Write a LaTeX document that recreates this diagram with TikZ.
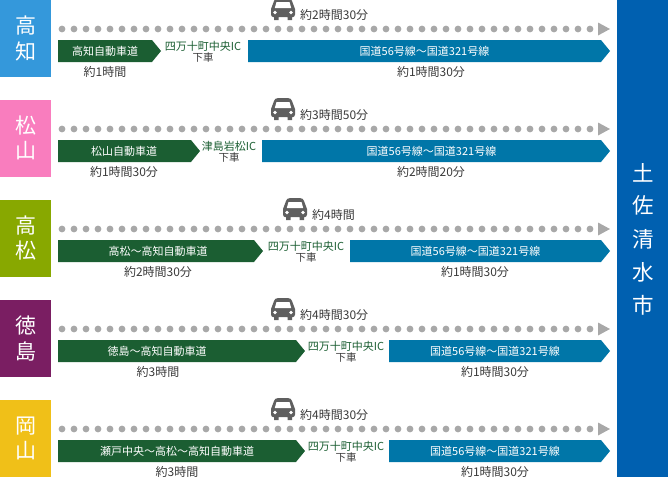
\documentclass[tikz,border=0pt]{standalone}
\usepackage{fontspec}
\setmainfont{Noto Sans CJK JP}
\usetikzlibrary{calc}
\definecolor{roadgreen}{HTML}{1B5E32}
\definecolor{roadblue}{HTML}{0076A8}
\definecolor{dotgray}{HTML}{A8A8A8}
\definecolor{cargray}{HTML}{5F5F5F}
\definecolor{txtgray}{HTML}{3A3A3A}
\definecolor{citytop}{HTML}{0060B0}
\definecolor{cola}{HTML}{3498DB}
\definecolor{colb}{HTML}{F97DBE}
\definecolor{colc}{HTML}{88A800}
\definecolor{cold}{HTML}{7A1E62}
\definecolor{cole}{HTML}{F0C018}
\tikzset{
  x=1pt,y=-1pt,
  citybox/.style={anchor=north west,minimum width=51pt,minimum height=77pt,inner sep=0pt,fill=#1},
  citytext/.style={text=white,font=\fontsize{21}{25}\selectfont,inner sep=0pt},
  roadtext/.style={text=white,font=\fontsize{11}{12}\selectfont,inner sep=0pt},
  timetext/.style={text=txtgray,font=\fontsize{12}{13}\selectfont,inner sep=0pt},
  ictext/.style={text=roadgreen,font=\fontsize{11}{12}\selectfont,inner sep=0pt},
  dwntext/.style={text=txtgray,font=\fontsize{10.5}{12}\selectfont,inner sep=0pt},
  cardot/.style={fill=dotgray,draw=none},
}
% #1 row name, #2 y, #3 colour, #4 first kanji, #5 second kanji, #6 car x, #7 total time, #8 green end
\newcommand{\rowA}[8]{%
  \node[citybox=#3] (#1box) at (0,#2) {};
  \node[citytext] (#1one) at (25.5,{#2+26}) {#4};
  \node[citytext] (#1two) at (25.5,{#2+51}) {#5};
  \foreach \i in {0,...,44} {\fill[cardot] ({62+12*\i},{#2+29}) circle (3.4);}
  \fill[dotgray] (598,{#2+22.5}) -- (610,{#2+29}) -- (598,{#2+35.5}) -- cycle;
  \begin{scope}[shift={(#6,#2)}]
    \fill[cargray] (-12,9) -- (-12,14.5) .. controls (-12,16) and (-11,17) .. (-10,17) -- (-9,17) -- (-9,20) -- (-4.5,20) -- (-4.5,17) -- (4.5,17) -- (4.5,20) -- (9,20) -- (9,17) -- (10,17) .. controls (11,17) and (12,16) .. (12,14.5) -- (12,9) -- (9,1) .. controls (8.5,-1) and (7,-1.8) .. (5.5,-1.8) -- (-5.5,-1.8) .. controls (-7,-1.8) and (-8.5,-1) .. (-9,1) -- cycle;
    \fill[white] (-6.5,2) -- (6.5,2) -- (8.2,8) -- (-8.2,8) -- cycle;
    \fill[white] (-8,12.5) circle (1.9) (8,12.5) circle (1.9);
  \end{scope}
  \node[timetext,anchor=west] (#1total) at ({#6+17},{#2+14.5}) {#7};
  \fill[roadgreen] (58,{#2+40}) -- ({#8-9},{#2+40}) -- (#8,{#2+51}) -- ({#8-9},{#2+62}) -- (58,{#2+62}) -- cycle;
}
% #1 row name, #2 y, #3 IC centre, #4 IC name, #5 blue start, #6 green label centre, #7 green time, #8 blue time, #9 blue time centre
\newcommand{\rowB}[9]{%
  \node[ictext] (#1ic) at (#3,{#2+46}) {#4};
  \node[dwntext] (#1down) at (#3,{#2+58}) {下車};
  \fill[roadblue] (#5,{#2+40}) -- (601,{#2+40}) -- (610,{#2+51}) -- (601,{#2+62}) -- (#5,{#2+62}) -- cycle;
  \node[roadtext] (#1blue) at ({(#5+601)/2},{#2+51}) {国道56号線～国道321号線};
  \node[timetext] (#1gt) at (#6,{#2+72}) {#7};
  \node[timetext] (#1bt) at (#9,{#2+72}) {#8};
}
\begin{document}
\begin{tikzpicture}
\useasboundingbox (0,0) rectangle (668,477);
\node[anchor=north west,minimum width=51pt,minimum height=477pt,inner sep=0pt,fill=citytop] (city) at (617,0) {};
\foreach \c/\yy in {土/172.5,佐/205.5,清/239,水/272,市/305} {\node[text=white,font=\fontsize{21.5}{23}\selectfont,inner sep=0pt] at (643,\yy) {\c};}

\rowA{a}{0}{cola}{高}{知}{283}{約2時間30分}{161}
\rowB{a}{0}{203}{四万十町中央IC}{248}{105}{約1時間}{約1時間30分}{431}
\node[roadtext] (agreen) at (105,51) {高知自動車道};

\rowA{b}{100}{colb}{松}{山}{283}{約3時間50分}{200}
\rowB{b}{100}{229}{津島岩松IC}{262}{124}{約1時間30分}{約2時間20分}{431}
\node[roadtext] (bgreen) at (124,151) {松山自動車道};

\rowA{c}{200}{colc}{高}{松}{295}{約4時間}{263}
\rowB{c}{200}{306}{四万十町中央IC}{350}{158}{約2時間30分}{約1時間30分}{475}
\node[roadtext] (cgreen) at (158,251) {高松～高知自動車道};

\rowA{d}{300}{cold}{徳}{島}{283}{約4時間30分}{305}
\rowB{d}{300}{346}{四万十町中央IC}{389}{158}{約3時間}{約1時間30分}{495}
\node[roadtext] (dgreen) at (157,351) {徳島～高知自動車道};

\rowA{e}{400}{cole}{岡}{山}{283}{約4時間30分}{305}
\rowB{e}{400}{346}{四万十町中央IC}{389}{177}{約3時間}{約1時間30分}{495}
\node[roadtext] (egreen) at (177,451) {瀬戸中央～高松～高知自動車道};
\end{tikzpicture}
\end{document}
